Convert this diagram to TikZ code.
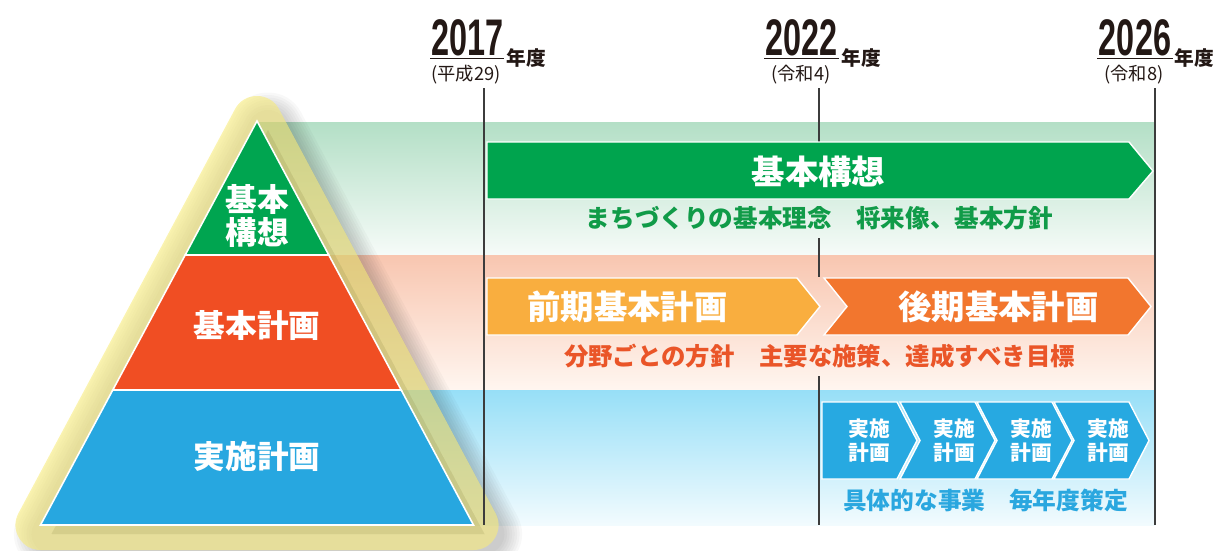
\documentclass[tikz,border=0pt]{standalone}
\usepackage{fontspec}
\newfontfamily\jp{Noto Sans CJK JP}
\newfontfamily\numf[FakeStretch=0.63]{Liberation Sans}
\definecolor{pgreen}{RGB}{0,165,80}
\definecolor{pred}{RGB}{240,78,35}
\definecolor{pblue}{RGB}{39,167,224}
\definecolor{agreen}{RGB}{0,164,78}
\definecolor{tgreen}{RGB}{16,155,72}
\definecolor{aorange1}{RGB}{249,174,63}
\definecolor{aorange2}{RGB}{242,118,46}
\definecolor{tred}{RGB}{234,85,40}
\definecolor{cblue}{RGB}{39,169,225}
\definecolor{tblue}{RGB}{42,167,223}
\definecolor{bandG}{RGB}{179,223,198}
\definecolor{bandGb}{RGB}{246,251,248}
\definecolor{bandO}{RGB}{248,198,176}
\definecolor{bandOb}{RGB}{255,246,240}
\definecolor{bandB}{RGB}{151,223,247}
\definecolor{bandBb}{RGB}{242,251,254}
\definecolor{halo}{RGB}{247,235,123}
\definecolor{vline}{RGB}{60,60,60}
\definecolor{ink}{RGB}{35,24,21}
\tikzset{
  yearnum/.style={anchor=base, inner sep=0pt, text=ink, font=\numf\bfseries\fontsize{29.3}{30}\selectfont},
  nendo/.style={anchor=base west, inner sep=0pt, text=ink, font=\jp\bfseries\fontsize{11.2}{12}\selectfont},
  era/.style={inner sep=0pt, text=ink, font=\jp\fontsize{10.4}{12}\selectfont},
  uline/.style={draw=ink, line width=0.6pt},
  tline/.style={draw=vline, line width=1.1pt},
  arrowtitle/.style={inner sep=0pt, text=white, font=\jp\bfseries\fontsize{19}{22}\selectfont},
  subtext/.style={inner sep=0pt, font=\jp\bfseries\fontsize{13.3}{16}\selectfont},
  pyrlabel/.style={inner sep=0pt, text=white, align=center, font=\jp\bfseries\fontsize{18}{19}\selectfont},
  chevlabel/.style={inner sep=0pt, text=white, align=center, font=\jp\bfseries\fontsize{11.8}{13.6}\selectfont},
  barshape/.style={draw=white, line width=0.8pt, line join=miter},
  shadowlayer/.style={black, opacity=0.028, line join=round},
}
\begin{document}
\begin{tikzpicture}[x=0.02cm, y=-0.02cm]
\useasboundingbox (0,0) rectangle (1214,551);
% bands
\shade[top color=bandG, bottom color=bandGb] (257,122) rectangle (1155,255);
\shade[top color=bandO, bottom color=bandOb] (257,255) rectangle (1155,390);
\shade[top color=bandB, bottom color=bandBb] (257,390) rectangle (1155,525);
% pyramid shadow (soft, layered)
\begin{scope}[shift={(11,9)}]
\foreach \w in {1.5,1.4,1.3,1.2,1.1,1.0,0.9,0.8}{
  \filldraw[shadowlayer, line width=\w cm] (257,121) -- (473.5,525) -- (40.5,525) -- cycle;
}
\end{scope}
% halo
\filldraw[halo, opacity=0.6, line width=1cm, line join=round] (257,121) -- (473.5,525) -- (40.5,525) -- cycle;
% pyramid tiers
\filldraw[fill=pgreen, draw=white, line width=0.9pt, line join=miter] (257,121) -- (328.8,255) -- (185.2,255) -- cycle;
\filldraw[fill=pred, draw=white, line width=0.9pt] (185.2,255) -- (328.8,255) -- (401.2,390) -- (112.8,390) -- cycle;
\filldraw[fill=pblue, draw=white, line width=0.9pt] (112.8,390) -- (401.2,390) -- (473.5,525) -- (40.5,525) -- cycle;
\node[pyrlabel] (pk) at (257,216) {基本\\構想};
\node[pyrlabel] (pb) at (257,325) {基本計画};
\node[pyrlabel] (pj) at (257,457) {実施計画};
% timeline lines
\coordinate (a1) at (484,88); \coordinate (a2) at (484,525);
\coordinate (c1) at (1155,88); \coordinate (c2) at (1155,525);
\draw[tline] (a1) -- (a2);
\draw[tline] (c1) -- (c2);
\draw[tline] (819,88) -- (819,142);
\draw[tline] (819,238) -- (819,277);
\draw[tline] (819,376) -- (819,525);
% headers
\node[yearnum] (y1) at (467.5,55) {2017};
\draw[uline] (430,58.4) -- (504,58.4);
\node[nendo] (n1) at (506,65.5) {年度};
\node[era] (e1) at (466,75) {(平成29)};
\node[yearnum] (y2) at (801.5,55) {2022};
\draw[uline] (764,58.4) -- (839,58.4);
\node[nendo] (n2) at (841,65.5) {年度};
\node[era] (e2) at (801,75) {(令和4)};
\node[yearnum] (y3) at (1135,55) {2026};
\draw[uline] (1097,58.4) -- (1173,58.4);
\node[nendo] (n3) at (1174.5,65.5) {年度};
\node[era] (e3) at (1134,75) {(令和8)};
% green arrow
\filldraw[barshape, fill=agreen] (487,142) -- (1129,142) -- (1153,171) -- (1129,199) -- (487,199) -- cycle;
\node[arrowtitle] (gk) at (818.5,172) {基本構想};
\node[subtext, text=tgreen, font=\jp\bfseries\fontsize{14}{16}\selectfont] (gs) at (819.5,218) {まちづくりの基本理念　将来像、基本方針};
% orange arrows
\filldraw[barshape, fill=aorange1] (487,278) -- (797,278) -- (820,306.5) -- (797,335) -- (487,335) -- cycle;
\filldraw[barshape, fill=aorange2] (824,278) -- (1128,278) -- (1151,306.5) -- (1128,335) -- (824,335) -- (847,306.5) -- cycle;
\node[arrowtitle] (zk) at (627.5,307) {前期基本計画};
\node[arrowtitle] (kk) at (998.5,307) {後期基本計画};
\node[subtext, text=tred, font=\jp\bfseries\fontsize{13.9}{16}\selectfont] (rs) at (819.5,356.5) {分野ごとの方針　主要な施策、達成すべき目標};
% blue chevrons
\filldraw[barshape, fill=cblue] (822,402) -- (897,402) -- (917,440.5) -- (897,479) -- (822,479) -- cycle;
\foreach \x in {900,977,1054}{
  \filldraw[barshape, fill=cblue] (\x,402) -- (\x+75,402) -- (\x+95,440.5) -- (\x+75,479) -- (\x,479) -- (\x+20,440.5) -- cycle;
}
\node[chevlabel] (j1) at (869,441) {実施\\計画};
\node[chevlabel] (j2) at (954,441) {実施\\計画};
\node[chevlabel] (j3) at (1031,441) {実施\\計画};
\node[chevlabel] (j4) at (1108,441) {実施\\計画};
\node[subtext, text=tblue, font=\jp\bfseries\fontsize{13.5}{16}\selectfont] (bs) at (985.5,500) {具体的な事業　毎年度策定};
\end{tikzpicture}
\end{document}
